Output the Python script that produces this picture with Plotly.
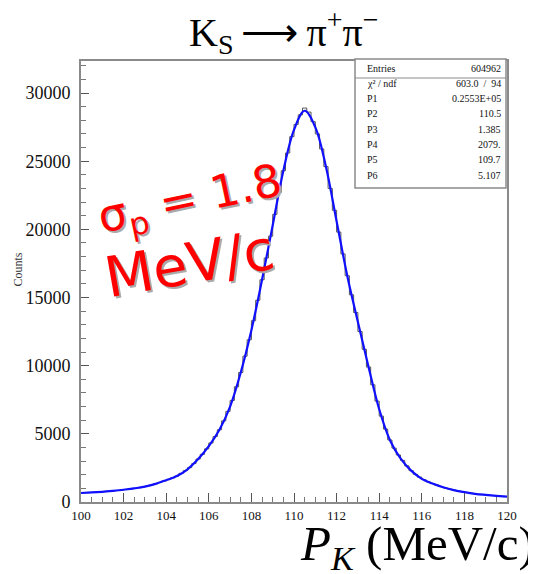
import plotly.graph_objects as go

# ---- data ----
bin_centers = [round(100.1 + 0.2 * i, 1) for i in range(100)]
bin_counts = [
    665, 680, 700, 720, 740, 760, 785, 810, 845, 880,
    915, 960, 1000, 1050, 1100, 1170, 1240, 1330, 1430, 1540,
    1660, 1770, 1900, 2100, 2300, 2520, 2820, 3150, 3500, 3900,
    4330, 4800, 5300, 5950, 6650, 7450, 8450, 9500, 10700, 11900,
    13300, 14800, 16300, 17900, 19500, 21100, 22700, 24300, 25600, 26800,
    27700, 28400, 28900, 28600, 27900, 27000, 25900, 24600, 23000, 21400,
    19800, 18200, 16600, 15200, 13900, 12500, 11200, 9900, 8600, 7400,
    6300, 5350, 4550, 3950, 3450, 3050, 2650, 2300, 2030, 1820,
    1640, 1480, 1350, 1240, 1130, 1030, 950, 870, 810, 750,
    700, 650, 600, 570, 540, 510, 480, 450, 420, 395,
]

fit_x = [100.0, 100.5, 101.0, 101.5, 102.0, 102.5, 103.0, 103.5, 104.0, 104.5,
         105.0, 105.5, 106.0, 106.5, 107.0, 107.5, 108.0, 108.5, 109.0, 109.5,
         110.0, 110.5, 111.0, 111.5, 112.0, 112.5, 113.0, 113.5, 114.0, 114.5,
         115.0, 115.5, 116.0, 116.5, 117.0, 117.5, 118.0, 118.5, 119.0, 119.5, 120.0]
fit_y = [660, 700, 750, 810, 900, 1000, 1130, 1330, 1600, 1900,
         2400, 3150, 4100, 5300, 7000, 9500, 12600, 16300, 20300, 24300,
         27300, 28700, 27500, 24600, 20600, 16600, 13200, 9900, 6800, 4550,
         3200, 2300, 1700, 1350, 1080, 870, 720, 600, 520, 450, 390]

x_ticks = [100, 102, 104, 106, 108, 110, 112, 114, 116, 118, 120]
y_ticks = [0, 5000, 10000, 15000, 20000, 25000, 30000]

stat_labels = ["Entries", "χ² / ndf", "P1", "P2", "P3", "P4", "P5", "P6"]
stat_values = ["604962", "603.0  /  94", "0.2553E+05", "110.5", "1.385", "2079.", "109.7", "5.107"]

# page body has an 8px margin: figure is sized so that it fills the window
W, H = 528, 566
L, R, T, B = 73, 29, 53, 72
PW, PH = W - L - R, H - T - B

fig = go.Figure()
fig.add_trace(go.Scatter(x=bin_centers, y=bin_counts, mode="lines",
                         line=dict(shape="hvh", color="#555555", width=1),
                         hoverinfo="skip", showlegend=False))
fig.add_trace(go.Scatter(x=fit_x, y=fit_y, mode="lines",
                         line=dict(shape="spline", color="#1010ff", width=2.2),
                         showlegend=False))

fig.update_xaxes(range=[100, 120], tickvals=x_ticks, ticktext=[str(v) for v in x_ticks],
                 ticks="inside", ticklen=9, tickcolor="#555555", tickwidth=1,
                 minor=dict(dtick=0.5, ticks="inside", ticklen=5, tickcolor="#777777"),
                 showline=True, linecolor="#8a8a8a", linewidth=2, mirror=True,
                 showgrid=False, zeroline=False,
                 tickfont=dict(family="Liberation Serif", size=13, color="#111111"))
fig.update_yaxes(range=[0, 32350], tickvals=y_ticks, ticktext=[str(v) for v in y_ticks],
                 ticks="inside", ticklen=8, tickcolor="#555555", tickwidth=1,
                 minor=dict(dtick=1000, ticks="inside", ticklen=5, tickcolor="#777777"),
                 showline=True, linecolor="#8a8a8a", linewidth=2, mirror=True,
                 showgrid=False, zeroline=False, ticklabelstandoff=5,
                 tickfont=dict(family="Liberation Serif", size=18, color="#111111"))

ann = []
# title
ann.append(dict(text="K<sub>S</sub>\u2009⟶\u2009π<sup>+</sup>π<sup>−</sup>", xref="paper", yref="paper",
                x=(283 - 81) / PW, y=1.0, yshift=T + 6, xanchor="center", yanchor="top", showarrow=False,
                font=dict(family="Liberation Serif", size=40, color="black")))
# x title
ann.append(dict(text="<i>P</i><sub><i>K</i></sub> (MeV/c)", xref="paper", yref="paper",
                x=1.0, xshift=30, y=0, yshift=-12, xanchor="right", yanchor="top", showarrow=False,
                font=dict(family="Liberation Serif", size=49, color="black")))
# y title
ann.append(dict(text="Counts", xref="paper", yref="paper", x=0, xshift=-64, y=0.5, yshift=12,
                xanchor="center", yanchor="middle", textangle=-90, showarrow=False,
                font=dict(family="Liberation Serif", size=12, color="#333333")))

# red handwritten note with shadow
for dx, dy, col in [(2, -2, "#aaaaaa"), (0, 0, "#ff0000")]:
    ann.append(dict(text="σ<sub>p</sub> = 1.8", xref="x", yref="y", x=105.1, y=22100,
                    xshift=dx, yshift=dy, showarrow=False, textangle=-12,
                    font=dict(family="DejaVu Sans", size=45, color=col)))
    ann.append(dict(text="MeV/c", xref="x", yref="y", x=105.1, y=17500,
                    xshift=dx, yshift=dy, showarrow=False, textangle=-10,
                    font=dict(family="DejaVu Sans", size=56, color=col)))

# stats box
top_px = 59
for i, (lab, val) in enumerate(zip(stat_labels, stat_values)):
    yy = (502 - (top_px + 9 + i * 15.3)) / PH
    ann.append(dict(text=lab, xref="paper", yref="paper", x=(365 - 81) / PW, y=yy,
                    xanchor="left", yanchor="middle", showarrow=False,
                    font=dict(family="Liberation Serif", size=10, color="#111111")))
    ann.append(dict(text=val, xref="paper", yref="paper", x=(503 - 81) / PW, y=yy,
                    xanchor="right", yanchor="middle", showarrow=False,
                    font=dict(family="Liberation Serif", size=10, color="#111111")))

shapes = [
    dict(type="rect", xref="paper", yref="paper",
         x0=(355 - 81) / PW, x1=(506 - 81) / PW, y0=(502 - 188) / PH, y1=(502 - 59) / PH,
         line=dict(color="#8a8a8a", width=1.5), fillcolor="white", layer="above"),
    dict(type="line", xref="paper", yref="paper",
         x0=(355 - 81) / PW, x1=(506 - 81) / PW, y0=(502 - 78) / PH, y1=(502 - 78) / PH,
         line=dict(color="#8a8a8a", width=1)),
]

fig.update_layout(width=W, height=H, margin=dict(l=L, r=R, t=T, b=B),
                  paper_bgcolor="white", plot_bgcolor="white",
                  annotations=ann, shapes=shapes, showlegend=False)

fig.write_html("out.html")
